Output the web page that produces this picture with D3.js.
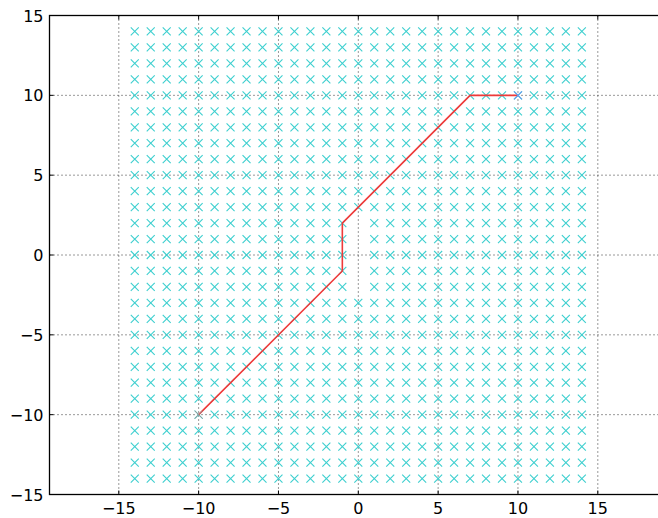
<!DOCTYPE html>
<html>
<head>
<meta charset="utf-8">
<script src="https://cdn.jsdelivr.net/npm/d3@7"></script>
<style>
  html, body { margin: 0; padding: 0; background: #fff; }
  svg { display: block; }
</style>
</head>
<body>
<svg id="chart" width="658" height="518"></svg>
<script>
// ---- data ----
const gridXs = [-14,-13,-12,-11,-10,-9,-8,-7,-6,-5,-4,-3,-2,-1,0,1,2,3,4,5,6,7,8,9,10,11,12,13,14];
const gridYs = [-14,-13,-12,-11,-10,-9,-8,-7,-6,-5,-4,-3,-2,-1,0,1,2,3,4,5,6,7,8,9,10,11,12,13,14];
const gapX = [0, 0, 0, 0, 0];
const gapY = [-2, -1, 0, 1, 2];
const pathX = [-10, -1, -1, 7, 10];
const pathY = [-10, -1, 2, 10, 10];
const startPoint = [-10, -10];
const goalPoint = [10, 10];
const xTicks = [-15, -10, -5, 0, 5, 10, 15];
const yTicks = [-15, -10, -5, 0, 5, 10, 15];

(function () {
// ---- layout ----
const padL = 49.5, padT = 15.5, padB = 494.5;
const pxPerUnit = (padB - padT) / 30;
const x0px = 358.3;
const xDomain = [-(x0px - padL) / pxPerUnit, (x0px - padL) / pxPerUnit];
const padR = padL + (xDomain[1] - xDomain[0]) * pxPerUnit;

const x = d3.scaleLinear().domain(xDomain).range([padL, padR]);
const y = d3.scaleLinear().domain([-15, 15]).range([padB, padT]);

const svg = d3.select("#chart");

// build points
const gapSet = new Set(gapX.map((gx, i) => gx + "," + gapY[i]));
const pts = [];
gridXs.forEach(gx => gridYs.forEach(gy => {
  if (!gapSet.has(gx + "," + gy)) pts.push([gx, gy]);
}));

const plot = svg.append("g");

// grid
plot.append("g").selectAll("line").data(xTicks).join("line")
  .attr("x1", d => x(d)).attr("x2", d => x(d))
  .attr("y1", padT).attr("y2", padB)
  .attr("stroke", "#333").attr("stroke-width", 1).attr("stroke-dasharray", "1,3");
plot.append("g").selectAll("line").data(yTicks).join("line")
  .attr("x1", padL).attr("x2", padR)
  .attr("y1", d => y(d)).attr("y2", d => y(d))
  .attr("stroke", "#333").attr("stroke-width", 1).attr("stroke-dasharray", "1,3");

// markers
const s = 4;
function xMark(g, data, color, width) {
  g.selectAll("path").data(data).join("path")
    .attr("d", d => {
      const cx = x(d[0]), cy = y(d[1]);
      return `M${cx - s},${cy - s}L${cx + s},${cy + s}M${cx - s},${cy + s}L${cx + s},${cy - s}`;
    })
    .attr("stroke", color).attr("stroke-width", width).attr("fill", "none");
}
xMark(plot.append("g"), pts, "#3dcfcf", 1.1);

// path
const line = d3.line().x(d => x(d[0])).y(d => y(d[1]));
plot.append("path")
  .datum(pathX.map((px, i) => [px, pathY[i]]))
  .attr("d", line)
  .attr("fill", "none")
  .attr("stroke", "#ee3a3a")
  .attr("stroke-width", 1.6);

xMark(plot.append("g"), [startPoint], "#999999", 1);
xMark(plot.append("g"), [goalPoint], "#6aa0ee", 1.2);

// axes frame
const frame = svg.append("g");
frame.append("rect")
  .attr("x", padL).attr("y", padT)
  .attr("width", padR - padL).attr("height", padB - padT)
  .attr("fill", "none").attr("stroke", "#000").attr("stroke-width", 1.3);

// ticks (inside, classic style)
const tl = 4;
frame.append("g").selectAll("line").data(xTicks).join("line")
  .attr("x1", d => x(d)).attr("x2", d => x(d))
  .attr("y1", padB).attr("y2", padB - tl).attr("stroke", "#000");
frame.append("g").selectAll("line").data(xTicks).join("line")
  .attr("x1", d => x(d)).attr("x2", d => x(d))
  .attr("y1", padT).attr("y2", padT + tl).attr("stroke", "#000");
frame.append("g").selectAll("line").data(yTicks).join("line")
  .attr("x1", padL).attr("x2", padL + tl)
  .attr("y1", d => y(d)).attr("y2", d => y(d)).attr("stroke", "#000");
frame.append("g").selectAll("line").data(yTicks).join("line")
  .attr("x1", padR).attr("x2", padR - tl)
  .attr("y1", d => y(d)).attr("y2", d => y(d)).attr("stroke", "#000");

const fmt = d => (d < 0 ? "\u2212" + Math.abs(d) : String(d));
frame.append("g").selectAll("text").data(xTicks).join("text")
  .attr("x", d => x(d)).attr("y", padB + 19)
  .attr("text-anchor", "middle")
  .attr("font-family", "DejaVu Sans, sans-serif").attr("font-size", 16)
  .attr("fill", "#000")
  .text(fmt);
frame.append("g").selectAll("text").data(yTicks).join("text")
  .attr("x", padL - 6).attr("y", d => y(d) + 6)
  .attr("text-anchor", "end")
  .attr("font-family", "DejaVu Sans, sans-serif").attr("font-size", 16)
  .attr("fill", "#000")
  .text(fmt);
})();
</script>
</body>
</html>
